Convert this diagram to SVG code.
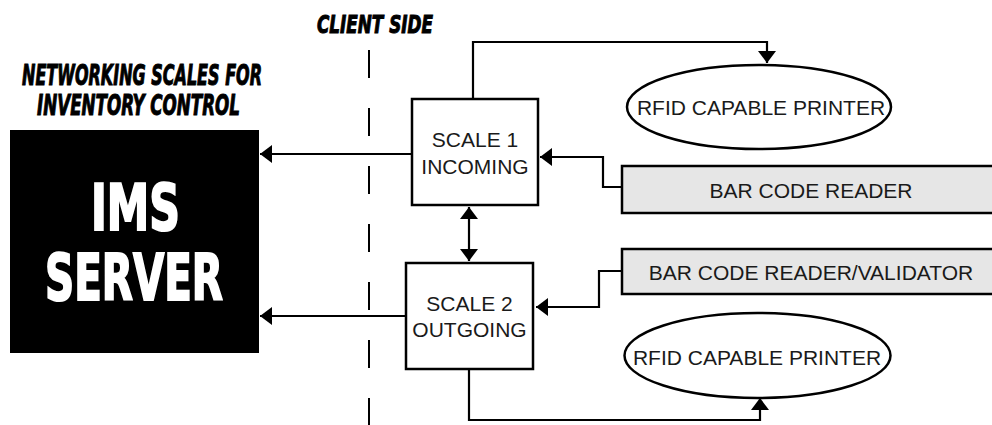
<svg xmlns="http://www.w3.org/2000/svg" width="992" height="425" viewBox="0 0 992 425">
  <style>
    .box { fill: #ffffff; stroke: #000; stroke-width: 2.5; }
    .bar { fill: #e6e6e6; stroke: #000; stroke-width: 2.5; }
    .oval { fill: #ffffff; stroke: #000; stroke-width: 2.5; }
    .lbl { font-family: "Liberation Sans", Arial, sans-serif; font-size: 21px; fill: #1a1a1a; text-anchor: middle; }
    .head { font-family: "DejaVu Sans Condensed", "DejaVu Sans", sans-serif; font-weight: bold; font-style: oblique; fill: #000; stroke: #000; stroke-width: 1; }
    .big { font-family: "DejaVu Sans Condensed", "DejaVu Sans", sans-serif; font-weight: bold; fill: #fff; stroke: #fff; stroke-width: 2; font-size: 64px; }
    .wire { fill: none; stroke: #000; stroke-width: 2.2; }
  </style>
  <defs>
    <marker id="tip" markerUnits="userSpaceOnUse" markerWidth="14" markerHeight="20" refX="12" refY="9" orient="auto-start-reverse">
      <path d="M0,0 L12,9 L0,18 Z" fill="#000"/>
    </marker>
  </defs>

  <!-- headings -->
  <g id="title">
    <text class="head" x="22" y="85" font-size="28" textLength="240" lengthAdjust="spacingAndGlyphs">NETWORKING SCALES FOR</text>
    <text class="head" x="37" y="115" font-size="28" textLength="203" lengthAdjust="spacingAndGlyphs">INVENTORY CONTROL</text>
  </g>
  <g id="client-side">
    <text class="head" x="317" y="33" font-size="25" textLength="116" lengthAdjust="spacingAndGlyphs">CLIENT SIDE</text>
    <line x1="369" y1="50" x2="369" y2="425" stroke="#000" stroke-width="2" stroke-dasharray="28 30"/>
  </g>

  <!-- server -->
  <g id="ims-server">
    <rect x="10" y="130" width="249" height="223" fill="#000"/>
    <text class="big" x="91" y="230" textLength="89" lengthAdjust="spacingAndGlyphs">IMS</text>
    <text class="big" x="45" y="300" textLength="178" lengthAdjust="spacingAndGlyphs">SERVER</text>
  </g>

  <!-- scales -->
  <g id="scale-1">
    <rect class="box" x="412" y="99" width="126" height="106"/>
    <text class="lbl" x="475" y="147">SCALE 1</text>
    <text class="lbl" x="475" y="174">INCOMING</text>
  </g>
  <g id="scale-2">
    <rect class="box" x="406" y="263" width="127" height="106"/>
    <text class="lbl" x="469.5" y="311">SCALE 2</text>
    <text class="lbl" x="469.5" y="337">OUTGOING</text>
  </g>

  <!-- peripherals -->
  <g id="printer-1">
    <ellipse class="oval" cx="759" cy="107" rx="132" ry="42"/>
    <text class="lbl" x="761" y="115" font-size="21.5">RFID CAPABLE PRINTER</text>
  </g>
  <g id="reader-1">
    <rect class="bar" x="622" y="166" width="380" height="47"/>
    <text class="lbl" x="811" y="198">BAR CODE READER</text>
  </g>
  <g id="reader-2">
    <rect class="bar" x="622" y="249" width="380" height="45"/>
    <text class="lbl" x="811" y="280">BAR CODE READER/VALIDATOR</text>
  </g>
  <g id="printer-2">
    <ellipse class="oval" cx="757.5" cy="355.5" rx="133" ry="42.5"/>
    <text class="lbl" x="757" y="365">RFID CAPABLE PRINTER</text>
  </g>

  <!-- connectors -->
  <g id="connectors">
    <path class="wire" d="M473,99 V42 H767 V63" marker-end="url(#tip)"/>
    <path class="wire" d="M412,154 H260" marker-end="url(#tip)"/>
    <path class="wire" d="M406,316 H260" marker-end="url(#tip)"/>
    <path class="wire" d="M622,187 H603 V157 H540" marker-end="url(#tip)"/>
    <path class="wire" d="M622,271 H599 V307 H536" marker-end="url(#tip)"/>
    <path class="wire" d="M469,207 V261" marker-start="url(#tip)" marker-end="url(#tip)"/>
    <path class="wire" d="M469,369 V420 H760 V398" marker-end="url(#tip)"/>
  </g>
</svg>
